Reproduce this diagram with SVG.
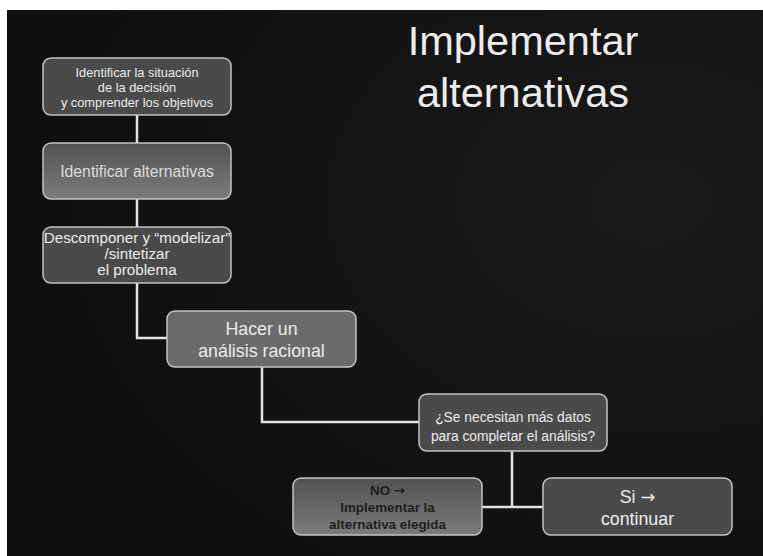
<svg xmlns="http://www.w3.org/2000/svg" width="763" height="556" viewBox="0 0 763 556">
<defs>
<style>
.n{fill:#4a4a4a;stroke:#c4c4c4;stroke-width:1.5}
.t{font-family:"Liberation Sans",Arial,sans-serif;text-anchor:middle;fill:#ececec}
.c{fill:none;stroke:#e2e2e2;stroke-width:2.5}
.ar{font-family:"DejaVu Sans",sans-serif}
</style>
<linearGradient id="g1" x1="0" y1="0" x2="0" y2="1">
<stop offset="0" stop-color="#525252"/><stop offset="1" stop-color="#7c7c7c"/>
</linearGradient>
<radialGradient id="bg" cx="0.85" cy="0.35" r="0.8">
<stop offset="0" stop-color="#1a1a1a"/><stop offset="1" stop-color="#0f0f0f"/>
</radialGradient>
</defs>
<rect x="0" y="0" width="763" height="556" fill="#ffffff"/>
<rect x="7" y="10" width="756" height="546" fill="url(#bg)"/>
<text class="t" x="523" y="55" font-size="41.5">Implementar</text>
<text class="t" x="523" y="107" font-size="41.5">alternativas</text>
<g id="connectors">
<path class="c" d="M137 115V143M137 199V227M137 283V338H167M262 367V422H419M512 451V507M482 507H543"/>
</g>
<g id="n1">
<rect class="n" x="43" y="58" width="188" height="57" rx="8"/>
<text class="t" x="137" y="77" font-size="12.8">Identificar la situación</text>
<text class="t" x="137" y="92" font-size="12.8">de la decisión</text>
<text class="t" x="137" y="106.5" font-size="12.8">y comprender los objetivos</text>
</g>
<g id="n2">
<rect class="n" x="43" y="143" width="188" height="56" rx="8" style="fill:url(#g1)"/>
<text class="t" x="137" y="177" font-size="15.8" style="fill:#dcdcdc">Identificar alternativas</text>
</g>
<g id="n3">
<rect class="n" x="43" y="227" width="188" height="56" rx="8"/>
<text class="t" x="137" y="243" font-size="15.2">Descomponer y “modelizar”</text>
<text class="t" x="137" y="259" font-size="15.2">/sintetizar</text>
<text class="t" x="137" y="275" font-size="15.2">el problema</text>
</g>
<g id="n4">
<rect class="n" x="167" y="311" width="189" height="56" rx="8" style="fill:#6b6b6b"/>
<text class="t" x="261.5" y="335" font-size="17.8">Hacer un</text>
<text class="t" x="261.5" y="357" font-size="17.8">análisis racional</text>
</g>
<g id="n5">
<rect class="n" x="419" y="394" width="188" height="57" rx="8"/>
<text class="t" x="513" y="421.5" font-size="13.8">¿Se necesitan más datos</text>
<text class="t" x="513" y="441" font-size="13.8">para completar el análisis?</text>
</g>
<g id="n6">
<rect class="n" x="293" y="478" width="189" height="57" rx="8" style="fill:url(#g1)"/>
<text class="t" x="387.5" y="495" font-size="13.4" font-weight="bold" style="fill:#1e1e1e">NO <tspan class="ar">→</tspan></text>
<text class="t" x="387.5" y="512" font-size="13.4" font-weight="bold" style="fill:#1e1e1e">Implementar la</text>
<text class="t" x="387.5" y="528.5" font-size="13.4" font-weight="bold" style="fill:#1e1e1e">alternativa elegida</text>
</g>
<g id="n7">
<rect class="n" x="543" y="478" width="189" height="57" rx="8"/>
<text class="t" x="637.5" y="503" font-size="17.8">Si <tspan class="ar">→</tspan></text>
<text class="t" x="637.5" y="525" font-size="17.8">continuar</text>
</g>
</svg>
